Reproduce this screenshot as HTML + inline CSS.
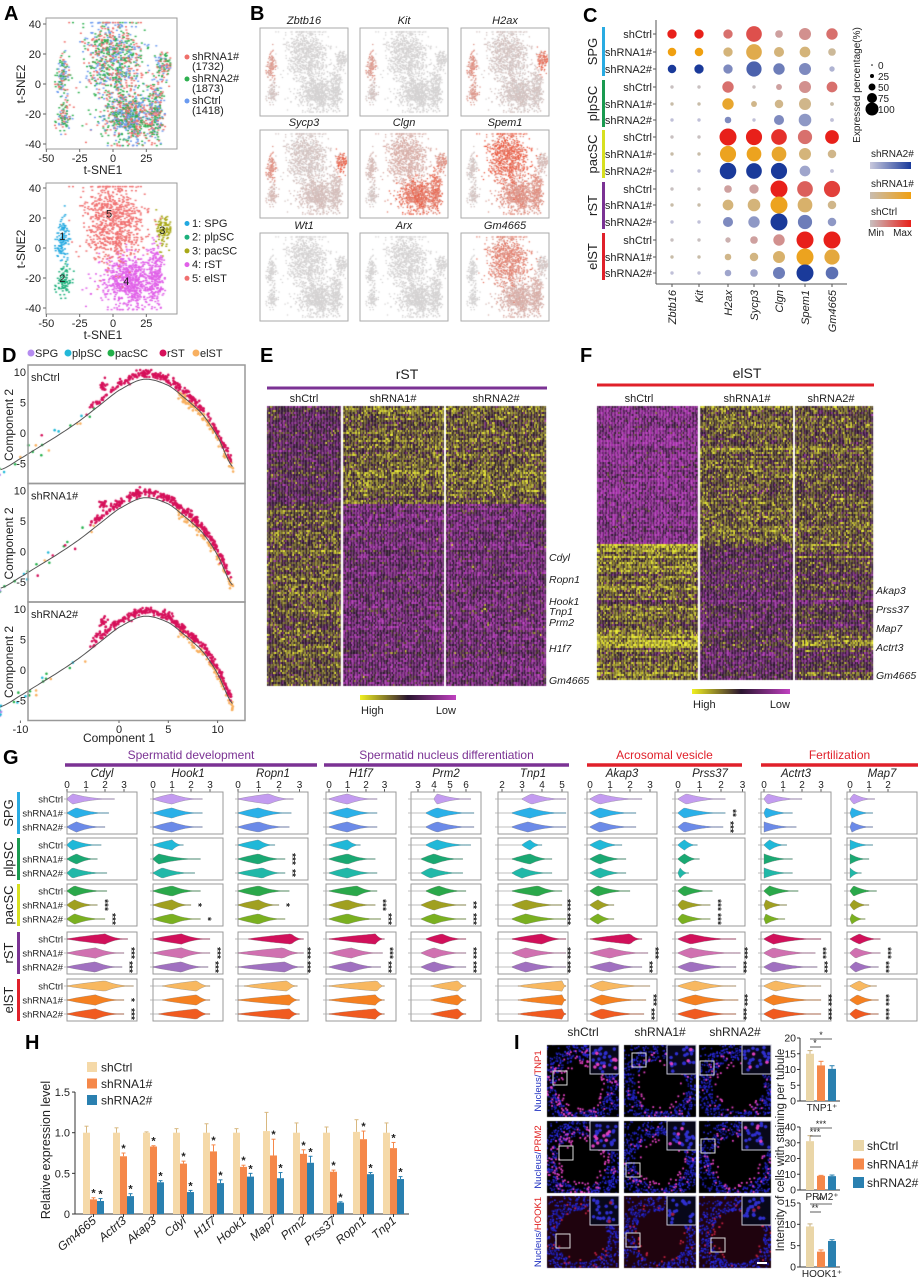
<!DOCTYPE html>
<html><head><meta charset="utf-8">
<style>
body{margin:0;width:920px;height:1280px;position:relative;background:#fff;overflow:hidden;font-family:"Liberation Sans",sans-serif}
#cv,#svg{position:absolute;left:0;top:0}
</style></head>
<body>
<canvas id="cv" width="920" height="1280"></canvas>
<svg id="svg" width="920" height="1280" font-family="Liberation Sans, sans-serif">
<defs>
<linearGradient id="hm" x1="0" x2="1" y1="0" y2="0"><stop offset="0" stop-color="#f0f020"/><stop offset="0.5" stop-color="#2a1530"/><stop offset="1" stop-color="#c040c0"/></linearGradient>
<linearGradient id="g2" x1="0" x2="1"><stop offset="0" stop-color="#c8c8dc"/><stop offset="1" stop-color="#1a3a9a"/></linearGradient>
<linearGradient id="g1" x1="0" x2="1"><stop offset="0" stop-color="#c8bcb0"/><stop offset="1" stop-color="#f0a010"/></linearGradient>
<linearGradient id="g0" x1="0" x2="1"><stop offset="0" stop-color="#c8c0c0"/><stop offset="1" stop-color="#e8201a"/></linearGradient>
</defs>
</svg>
<script>
// ---------------- DATA ----------------
const tsneClusters=['SPG','plpSC','pacSC','rST','elST','rST'];
const tsneCx=[-38,-37,38,12,0,32];
const tsneCy=[5,-22,12,-22,17,-18];
const tsneSx=[2.5,2.5,3,10,11,3];
const tsneSy=[8,5,6,9,13,10];
const tsneN=[120,90,110,700,800,220];
const tsneCid=[0,1,2,3,4,3];
const sampleNames=['shRNA1#','shRNA2#','shCtrl'];
const sampleCounts=[1732,1873,1418];
const bGenes=['Zbtb16','Kit','H2ax','Sycp3','Clgn','Spem1','Wt1','Arx','Gm4665'];
const bLevels=[[0.5,0.1,0,0,0],[0.5,0.1,0,0,0],[0.6,0.5,0.9,0.1,0.1],[0.6,0.2,1,0.15,0.1],[0.2,0.1,0.6,0.9,0.3],[0.1,0.1,0.2,0.6,1],[0,0,0,0,0],[0,0,0,0,0],[0.05,0.05,0.1,0.3,0.7]];
const cGenes=['Zbtb16','Kit','H2ax','Sycp3','Clgn','Spem1','Gm4665'];
const cGroups=['SPG','plpSC','pacSC','rST','elST'];
const cConds=['shCtrl','shRNA1#','shRNA2#'];
const cPct=[[30,30,30,85,20,50,45],[25,25,30,85,35,40,20],[25,30,30,80,45,50,10],
[4,4,45,4,12,50,40],[4,4,45,12,25,50,5],[4,4,15,4,35,55,5],
[4,4,100,90,85,70,65],[4,4,90,75,75,50,25],[4,4,95,85,90,40,5],
[4,4,20,30,100,85,90],[4,4,40,55,100,75,25],[4,4,35,45,100,70,25],
[4,4,10,20,45,100,100],[4,4,15,25,50,100,80],[4,4,15,20,50,100,55]];
const cInt=[[1,1,.5,.7,.2,.3,.5],[1,1,.3,.6,.3,.3,.1],[1,1,.4,.7,.5,.4,.1],
[0,0,.5,0,.2,.3,.5],[0,0,.8,.2,.2,.2,0],[0,0,.4,0,.4,.3,0],
[0,0,1,1,.9,.5,1],[0,0,.9,.9,.8,.3,.2],[0,0,1,1,1,.2,0],
[0,0,.2,.2,1,.6,.8],[0,0,.3,.3,.9,.4,.2],[0,0,.4,.3,1,.5,.3],
[0,0,.1,.2,.3,1,1],[0,0,.2,.25,.4,.9,.7],[0,0,.2,.2,.5,1,.6]];
const dCurveX=[-12,-10,-8,-6,-4,-2,0,2.5,5,7,8.5,10,11.5];
const dCurveY=[-6,-4.2,-2.2,-0.2,2,4.5,7,8.8,7.8,5.3,3,-0.6,-5.5];
const dPanels=['shCtrl','shRNA1#','shRNA2#'];
const gGenes=['Cdyl','Hook1','Ropn1','H1f7','Prm2','Tnp1','Akap3','Prss37','Actrt3','Map7'];
const gViolins=[
[[0,.3,2.5],[0,.5,2.2],[0,.5,2],[0,.3,1.8],[0,.5,1.6],[0,.3,2.1],[0,.4,2.1],[0,.4,1.6],[0,.4,2],[0,2,3.2],[0,1.5,3],[0,1.5,2.9],[0,2,3.5],[0,1.5,3],[0,1.5,3]],
[[0,1,2.6],[0,1,2.6],[0,1,2.6],[0,1,1.6],[0,.3,2.5],[0,.5,2.2],[0,1,2.5],[0,1,2],[0,1,2.5],[0,1.5,3],[0,1.5,3],[0,1.5,2.9],[.5,2.3,3],[.5,2.3,3],[.3,2.3,3]],
[[0,1.5,2.7],[0,1,2.6],[0,1,2.5],[0,1,1.8],[0,1,2.3],[0,1.2,2.3],[0,1,2.5],[0,1,2],[0,1,2.3],[.5,2.6,3.2],[0,2.2,3.2],[0,2.3,3.2],[.3,2.4,2.9],[0,2.5,3],[0,2.5,3]],
[[0,1,2.6],[0,1,2.6],[0,1,2.6],[0,1,1.7],[0,1,2.5],[0,1,2.6],[0,1.5,2.6],[0,1,2.5],[0,1,2.8],[0,2.5,3],[0,1.2,2.9],[0,1.2,2.8],[0,2.6,3],[0,2.5,3],[0,2.5,3]],
[[4,4.2,6.3],[3.5,4.2,6.5],[3.5,4.2,6.5],[3.5,4.2,6.3],[3.2,4,5.8],[3.2,3.8,5.8],[3.5,4.3,6],[3.2,4,6],[3.2,4,6],[3.5,4.5,6],[3.2,4,6],[3.2,4,6],[3.8,5.5,6],[3.8,5.5,6],[3.8,5.5,6]],
[[3,3.5,5.5],[2.5,3.4,5.5],[2.5,3.3,5.5],[3,3.4,4],[2.5,3.4,4.5],[2.5,3,4.5],[2.5,3.8,5],[2.5,3.2,5],[2.5,3.2,5.2],[2.5,4,5.5],[2.5,3.2,5.5],[2.5,3.2,5.5],[2.8,5,5.5],[2.8,5,5.5],[2.8,5,5.5]],
[[0,.5,2.6],[0,.5,2.3],[0,.5,2.3],[0,.5,1.6],[0,.5,1.8],[0,.5,1.8],[0,.4,2],[0,.4,1.2],[0,.4,1.2],[0,2,2.6],[0,1,2.9],[0,1,2.6],[0,.6,3],[0,.6,2.8],[0,.6,2.7]],
[[0,.4,2.2],[0,.3,2.2],[0,.3,2.1],[0,.3,.9],[0,.3,1],[0,.1,.5],[0,.3,1.6],[0,.2,1.5],[0,.2,1.5],[0,.6,2.7],[0,.6,2.9],[0,.6,2.7],[0,.8,2.7],[0,.8,2.8],[0,.8,2.7]],
[[0,.2,2],[0,.1,1.5],[0,0,1.7],[0,.3,1.2],[0,0,1.5],[0,0,1.5],[0,.3,1.8],[0,.1,1.2],[0,.1,1.1],[0,.5,3],[0,.5,2.7],[0,.5,2.8],[0,.6,3],[0,.5,3],[0,.5,3]],
[[0,.2,1.3],[0,.1,1.2],[0,.1,1.2],[0,0,1.2],[0,0,1],[0,0,.6],[0,.2,1.4],[0,.2,1],[0,.1,.8],[0,.5,1.6],[0,.3,1.6],[0,.3,1.5],[0,.5,1.4],[0,.4,1.5],[0,.3,1.5]]];
const gStars=[
[[2,1,'***'],[2,2,'***'],[3,1,'***'],[3,2,'***'],[4,1,'*'],[4,2,'***']],
[[2,1,'*'],[2,2,'*'],[3,1,'***'],[3,2,'***']],
[[1,1,'***'],[1,2,'**'],[2,1,'*'],[3,1,'***'],[3,2,'***']],
[[2,1,'***'],[2,2,'***'],[3,1,'***'],[3,2,'***']],
[[2,1,'**'],[2,2,'***'],[3,1,'***'],[3,2,'***']],
[[2,1,'***'],[2,2,'***'],[3,1,'***'],[3,2,'***']],
[[3,1,'***'],[3,2,'***'],[4,1,'***'],[4,2,'***']],
[[0,1,'**'],[0,2,'***'],[2,1,'***'],[2,2,'***'],[3,1,'***'],[3,2,'***'],[4,1,'***'],[4,2,'***']],
[[3,1,'***'],[3,2,'***'],[4,1,'***'],[4,2,'***']],
[[3,1,'***'],[3,2,'***'],[4,1,'***'],[4,2,'***']]];
const hGenes=['Gm4665','Actrt3','Akap3','Cdyl','H1f7','Hook1','Map7','Prm2','Prss37','Ropn1','Tnp1'];
const hCtrl=[1,1,1,1,1,1,1.02,1,1,1.01,1];
const hCtrlErr=[0.08,0.06,0.01,0.05,0.11,0.05,0.23,0.12,0.07,0.15,0.12];
const hSh1=[0.18,0.71,0.83,0.62,0.77,0.58,0.72,0.74,0.52,0.92,0.81];
const hSh1Err=[0.02,0.04,0.01,0.03,0.08,0.02,0.2,0.05,0.02,0.1,0.07];
const hSh2=[0.16,0.22,0.39,0.27,0.38,0.46,0.44,0.63,0.14,0.49,0.43];
const hSh2Err=[0.03,0.03,0.02,0.02,0.04,0.04,0.07,0.08,0.01,0.02,0.03];
const hTicks=[0,0.5,1.0,1.5];
const hTickLabels=['0','0.5','1.0','1.5'];
const iMarkers=['TNP1','PRM2','HOOK1'];
const iCtrl=[15,31,9.5], iSh1=[11.3,9,3.6], iSh2=[10.2,8.8,6.1];
const iCtrlErr=[1,3.5,0.6], iSh1Err=[1.3,0.3,0.4], iSh2Err=[1,0.7,0.3];
const iMax=[20,40,15];
const iTicks=[[0,5,10,15,20],[0,10,20,30,40],[0,5,10,15]];
const iSig=[['*','*'],['***','***'],['**','**']];

// ---------------- HELPERS ----------------
const NS='http://www.w3.org/2000/svg';
const S=document.getElementById('svg');
const ctx=document.getElementById('cv').getContext('2d');
function mk(tag,attrs,parent){const e=document.createElementNS(NS,tag);for(const k in attrs)e.setAttribute(k,attrs[k]);(parent||S).appendChild(e);return e;}
function T(x,y,s,attrs,name){const a=Object.assign({x:x,y:y,'font-size':10,fill:'#222'},attrs||{});const e=mk('text',a);e.textContent=s;


return e;}
function L(x1,y1,x2,y2,st,w,name){const e=mk('line',{x1:x1,y1:y1,x2:x2,y2:y2,stroke:st||'#444','stroke-width':w||1});


return e;}
function R(x,y,w,h,fill,name,extra){const e=mk('rect',Object.assign({x:x,y:y,width:w,height:h,fill:fill},extra||{}));


return e;}
let seed=12345;
function rnd(){seed|=0;seed=seed+0x6D2B79F5|0;let t=Math.imul(seed^seed>>>15,1|seed);t=t+Math.imul(t^t>>>7,61|t)^t;return((t^t>>>14)>>>0)/4294967296;}
function gauss(){let u=rnd()||1e-6,v=rnd();return Math.sqrt(-2*Math.log(u))*Math.cos(2*Math.PI*v);}
function lerpC(a,b,t){return 'rgb('+a.map((v,i)=>Math.round(v+(b[i]-v)*t)).join(',')+')';}
function letter(x,y,s){T(x,y,s,{'font-size':20,'font-weight':'bold',fill:'#000'},'panel-letter-'+s);}

letter(4,20,'A');letter(250,20,'B');letter(583,22,'C');letter(2,362,'D');letter(260,362,'E');letter(580,362,'F');letter(3,764,'G');letter(25,1049,'H');letter(514,1049,'I');

// ---------------- PANEL A ----------------
const TX=v=>113+v*1.333;
const tpts=[];
const totS=sampleCounts.reduce((a,b)=>a+b,0);
tsneN.forEach((n,k)=>{for(let i=0;i<n;i++){let x=tsneCx[k]+gauss()*tsneSx[k],y=tsneCy[k]+gauss()*tsneSy[k];x=Math.max(-45,Math.min(43,x));y=Math.max(-41,Math.min(41,y));let u=rnd()*totS,s=0;while(u>sampleCounts[s]){u-=sampleCounts[s];s++;}tpts.push({x:x,y:y,c:tsneCid[k],s:s,u:rnd()});}});
const sCol=['#ef6f6a','#2eb050','#6a9af0'];
const cCol=['#22a8e0','#1cb07c','#a8a818','#e060e8','#f07070'];
function tsneAxes(y0,yzero,name){
  R(46,y0,131,131,'none',name+'-frame',{stroke:'#999'});
  [40,20,0,-20,-40].forEach(v=>{const y=yzero-v*1.5;if(y<y0-1||y>y0+132)return;L(43,y,46,y,'#666');T(41,y+4,String(v),{'text-anchor':'end','font-size':11},name+'-ytick');});
  [-50,-25,0,25].forEach(v=>{const x=TX(v);L(x,y0+131,x,y0+134,'#666');T(x,y0+144,String(v),{'text-anchor':'middle','font-size':11},name+'-xtick');});
  T(103,y0+156,'t-SNE1',{'text-anchor':'middle','font-size':12},name+'-x-title');
  T(0,0,'t-SNE2',{'text-anchor':'middle','font-size':12,transform:'translate(25,'+(y0+66)+') rotate(-90)'},name+'-y-title');
}
tpts.forEach(p=>{ctx.fillStyle=sCol[p.s];ctx.fillRect(TX(p.x)-1,84-p.y*1.5-0.6,2,1.4);});
tsneAxes(18,84,'tsne-sample');
tpts.forEach(p=>{ctx.fillStyle=cCol[p.c];ctx.fillRect(TX(p.x)-1,248-p.y*1.5-0.6,2,1.4);});
tsneAxes(183,248,'tsne-cluster');
[['1',-38,8],['2',-38,-20],['3',37,12],['4',10,-22],['5',-3,23]].forEach(a=>T(TX(a[1]),248-a[2]*1.5+4,a[0],{'font-size':11,'text-anchor':'middle'},'cluster-number'));
sampleNames.forEach((s,i)=>{const y=60+i*22;const c=mk('circle',{cx:187,cy:y-3,r:2.5,fill:sCol[i]});


T(192,y,s,{'font-size':11},'legend-entry');T(192,y+10,'('+sampleCounts[i]+')',{'font-size':11},'legend-count');});
['1: SPG','2: plpSC','3: pacSC','4: rST','5: elST'].forEach((s,i)=>{const y=227+i*13.7;const c=mk('circle',{cx:187,cy:y-3.5,r:2.5,fill:cCol[i]});


T(192,y,s,{'font-size':11},'legend-entry');});

// ---------------- PANEL B ----------------
const bX=[260,360,461],bY=[28,130,233];
bGenes.forEach((g,gi)=>{const bx=bX[gi%3],by=bY[Math.floor(gi/3)];
  tpts.forEach(p=>{const lv=bLevels[gi][p.c]*(0.4+0.6*p.u);ctx.fillStyle=lv>0.05?lerpC([208,204,204],[240,70,40],lv):'#d4d2d2';ctx.fillRect(bx+(p.x+50)/95*88-0.7,by+(45-p.y)/90*88-0.6,1.4,1.2);});
  R(bx,by,88,88,'none','feature-plot-'+g,{stroke:'#aaa'});
  T(bx+44,by-4,g,{'font-size':11,'font-style':'italic','text-anchor':'middle'},'feature-title');
});

// ---------------- PANEL C ----------------
const cColX=[672,699,728,754,779,805,832];
const cRowY=[34,52,69,87,104,120,137,154,171,189,205,222,240,257,273];
const cLo=[[200,192,192],[200,188,168],[192,192,216]],cHi=[[232,32,26],[240,160,16],[26,58,154]];
L(656,20,656,284,'#555');L(656,284,847,284,'#555');
cRowY.forEach((y,ri)=>{const cond=ri%3;T(652,y+4,cConds[cond],{'font-size':11,'text-anchor':'end'},'dotplot-row-label');L(653,y,656,y,'#555');
  cGenes.forEach((g,gi)=>{const p=cPct[ri][gi];const r=Math.max(0.8,Math.sqrt(p/100)*8.5);const c=mk('circle',{cx:cColX[gi],cy:y,r:r,fill:lerpC(cLo[cond],cHi[cond],cInt[ri][gi])});
  
  });});
const grpCol=['#29abe2','#1a9a50','#d8e020','#7b3294','#e0202a'];
cGroups.forEach((g,i)=>{const y0=cRowY[i*3]-7,y1=cRowY[i*3+2]+7;R(602,y0,3,y1-y0,grpCol[i],'dotplot-group-bar');
  T(0,0,g,{'font-size':13,'text-anchor':'middle',transform:'translate(597,'+((y0+y1)/2)+') rotate(-90)'},'dotplot-group-label');});
cGenes.forEach((g,gi)=>{L(cColX[gi],284,cColX[gi],287,'#555');T(0,0,g,{'font-size':11,'font-style':'italic','text-anchor':'end',transform:'translate('+(cColX[gi]+4)+',290) rotate(-90)'},'dotplot-gene-label');});
T(0,0,'Expressed percentage(%)',{'font-size':10,'text-anchor':'middle',transform:'translate(860,85) rotate(-90)'},'size-legend-title');
[[0,0.8],[25,2],[50,3.5],[75,5],[100,6.5]].forEach((a,i)=>{const y=65+i*11;const c=mk('circle',{cx:872,cy:y,r:a[1],fill:'#000'});


T(878,y+4,String(a[0]),{'font-size':10},'size-legend-label');});
[['shRNA2#','g2',157],['shRNA1#','g1',187],['shCtrl','g0',215]].forEach(a=>{T(871,a[2],a[0],{'font-size':10},'color-legend-title');R(870,a[2]+5,41,7,'url(#'+a[1]+')','color-legend-bar');});
T(868,236,'Min',{'font-size':10},'color-min');T(912,236,'Max',{'font-size':10,'text-anchor':'end'},'color-max');

// ---------------- PANEL D ----------------
const dColors={SPG:'#b58cf0',plpSC:'#22b8d8',pacSC:'#22b04a',rST:'#d6105a',elST:'#f8b060'};
function curveY(x){const n=dCurveX.length;if(x<=dCurveX[0])return dCurveY[0];for(let i=0;i<n-1;i++){if(x<=dCurveX[i+1]){const t=(x-dCurveX[i])/(dCurveX[i+1]-dCurveX[i]);
  const p0=dCurveY[Math.max(0,i-1)],p1=dCurveY[i],p2=dCurveY[i+1],p3=dCurveY[Math.min(n-1,i+2)];
  return 0.5*((2*p1)+(-p0+p2)*t+(2*p0-5*p1+4*p2-p3)*t*t+(-p0+3*p1-3*p2+p3)*t*t*t);}}return dCurveY[n-1];}
const dLeg=[['SPG',35],['plpSC',72],['pacSC',115],['rST',167],['elST',200]];
dLeg.forEach(a=>{const c=mk('circle',{cx:a[1]-4,cy:353,r:3.5,fill:dColors[a[0]]});


T(a[1],357,a[0],{'font-size':11},'trajectory-legend-label');});
dPanels.forEach((pn,pi)=>{const top=365+pi*118.5;const X=v=>119+v*9.86,Y=v=>top+68-v*6.1;
  const pts=[];
  for(let i=0;i<45;i++){const r=rnd();pts.push([-12.6+gauss()*0.35,-6.6+gauss()*0.45,r<0.35?'pacSC':r<0.7?'plpSC':'SPG']);}
  for(let i=0;i<18;i++){const x=-11+rnd()*9;const r=rnd();pts.push([x,curveY(x)+gauss()*0.8,r<0.4?'pacSC':r<0.6?'plpSC':r<0.8?'rST':'elST']);}
  for(let i=0;i<18;i++)pts.push([-1.6+gauss()*0.2,7.8+gauss()*0.4,'rST']);
  const nE=pi==0?110:70;
  for(let i=0;i<nE;i++){const x=6+rnd()*5.6;pts.push([x,curveY(x)-0.3+gauss()*0.4,'elST']);}
  const nR=pi==0?260:330;
  for(let i=0;i<nR;i++){const x=-3+Math.pow(rnd(),0.8)*14.4;pts.push([x,curveY(x)+0.9+gauss()*0.35,'rST']);}
  pts.forEach(p=>{ctx.fillStyle=dColors[p[2]];ctx.beginPath();ctx.arc(X(p[0]),Y(p[1]),1.3,0,7);ctx.fill();});
  let d='';for(let x=-12;x<=11.5;x+=0.25){d+=(d?'L':'M')+X(x).toFixed(1)+','+Y(curveY(x)).toFixed(1);}
  const c=mk('path',{d:d,fill:'none',stroke:'#555','stroke-width':1});
  
  
  R(28,top,217,118.5,'none','trajectory-frame-'+pn,{stroke:'#999','stroke-width':1.5});
  T(31,top+16,pn,{'font-size':11},'trajectory-panel-title');
  [10,5,0,-5].forEach(v=>{T(26,Y(v)+4,String(v),{'font-size':11,'text-anchor':'end'},'trajectory-ytick');});
  T(0,0,'Component 2',{'font-size':12,'text-anchor':'middle',transform:'translate(13,'+(top+60)+') rotate(-90)'},'trajectory-y-title');
  if(pi==2){[-10,0,5,10].forEach(v=>{L(X(v),top+118.5,X(v),top+121,'#666');T(X(v),top+131,String(v),{'font-size':11,'text-anchor':'middle'},'trajectory-xtick');});
  T(119,top+140,'Component 1',{'font-size':12,'text-anchor':'middle'},'trajectory-x-title');}
});

// ---------------- PANELS E/F HEATMAPS ----------------
function hmColor(z){z=Math.max(-1,Math.min(1,z));return z>0?lerpC([42,22,44],[230,230,40],z):lerpC([42,22,44],[170,50,175],-z);}
function heatmap(x0,x1,y0,y1,divs,baseFn,rowSd){const rows=Math.floor((y1-y0)/2);const cols=Math.floor((x1-x0)/1.5);
  const rowEff=[];for(let r=0;r<rows;r++)rowEff.push(gauss()*rowSd);
  for(let r=0;r<rows;r++)for(let c=0;c<cols;c++){const x=x0+c*1.5;const g=x<divs[0]?0:x<divs[1]?1:2;
    ctx.fillStyle=hmColor(baseFn(r/rows,g,r)+rowEff[r]+gauss()*0.35);ctx.fillRect(x,y0+r*2,1.6,2);}
  ctx.fillStyle='#fff';divs.forEach(d=>ctx.fillRect(d-1,y0,2,y1-y0));}
heatmap(267,547,406,686,[342,445],(t,g)=> t<0.35?(g==0?-0.2:0.3):(g==0?0.2:-0.45),0.12);
const fBand=[];for(let i=0;i<140;i++)fBand.push(gauss()*0.4);
heatmap(597,873,406,681,[699,794],(t,g,r)=> t<0.5?(g==0?-0.65:g==1?0.25:0.2):(g==0?0.35+fBand[r]*0.6:g==1?-0.25+fBand[r]*0.3:0.0+fBand[r]*0.7),0.1);
T(407,379,'rST',{'font-size':14,'text-anchor':'middle'},'heatmap-e-title');L(267,388,547,388,'#7b3294',3,'heatmap-e-group-bar');
[['shCtrl',304],['shRNA1#',393],['shRNA2#',496]].forEach(a=>T(a[1],402,a[0],{'font-size':11,'text-anchor':'middle'},'heatmap-e-column-label'));
[['Cdyl',561],['Ropn1',583],['Hook1',605],['Tnp1',615],['Prm2',626],['H1f7',652],['Gm4665',684]].forEach(a=>T(549,a[1],a[0],{'font-size':10.5,'font-style':'italic'},'heatmap-e-gene-label'));
R(360,695,96,5,'url(#hm)','heatmap-e-colorbar');T(361,714,'High',{'font-size':11},'colorbar-high');T(456,714,'Low',{'font-size':11,'text-anchor':'end'},'colorbar-low');
T(747,378,'elST',{'font-size':14,'text-anchor':'middle'},'heatmap-f-title');L(597,385,874,385,'#e0202a',3,'heatmap-f-group-bar');
[['shCtrl',639],['shRNA1#',747],['shRNA2#',831]].forEach(a=>T(a[1],402,a[0],{'font-size':11,'text-anchor':'middle'},'heatmap-f-column-label'));
[['Akap3',594],['Prss37',613],['Map7',632],['Actrt3',651],['Gm4665',679]].forEach(a=>T(876,a[1],a[0],{'font-size':10.5,'font-style':'italic'},'heatmap-f-gene-label'));
R(692,689,98,5,'url(#hm)','heatmap-f-colorbar');T(693,708,'High',{'font-size':11},'colorbar-high');T(790,708,'Low',{'font-size':11,'text-anchor':'end'},'colorbar-low');

// ---------------- PANEL G VIOLINS ----------------
const gColX=[67,153,238,326,411,498,587,675,761,847];
const gAxis=[[0,19,0,[0,1,2,3]],[0,19,0,[0,1,2,3]],[0,20.5,0,[0,1,2,3]],[0,18.5,3,[0,1,2,3]],[3,16,7,[3,4,5,6]],[2,20,4,[2,3,4,5]],[0,20,3,[0,1,2,3]],[0,21.5,3,[0,1,2,3]],[0,19,3,[0,1,2,3]],[0,19,3,[0,1,2]]];
const gRowY=[792,838,884,932,979];
const gFill=[['#c39bf0','#2ab0e8','#6b8ae8'],['#20b8d8','#1aa872','#20b8a8'],['#2aa84a','#a0a020','#7ab020'],['#d0105a','#d070b0','#a070c0'],['#f8b860','#f58020','#f05a20']];
[['Spermatid development',65,317,'#7b3294'],['Spermatid nucleus differentiation',324,569,'#7b3294'],['Acrosomal vesicle',587,742,'#e0202a'],['Fertilization',761,918,'#e0202a']].forEach(a=>{
  T((a[1]+a[2])/2,759,a[0],{'font-size':12,'text-anchor':'middle',fill:a[3]},'category-title');L(a[1],765,a[2],765,a[3],3.5,'category-bar');});
gGenes.forEach((g,ci)=>{const bx=gColX[ci],ax=gAxis[ci];const X=v=>Math.min(bx+68,bx+ax[2]+(v-ax[0])*ax[1]);
  T(bx+35,777,g,{'font-size':11.5,'font-style':'italic','text-anchor':'middle'},'violin-gene-title');
  ax[3].forEach(v=>{T(X(v),788,String(v),{'font-size':10,'text-anchor':'middle'},'violin-xtick');L(X(v),789,X(v),792,'#555');});
  gRowY.forEach((ry,ri)=>{R(bx,ry,70,42,'none','violin-box',{stroke:'#999'});
    [7,21,35].forEach((off,k)=>{const vd=gViolins[ci][ri*3+k];const cy=ry+off;const lo=X(vd[0]),pk=X(vd[1]),hi=X(vd[2]);
      L(bx-3,cy,lo,cy,'#aaa',0.8,'violin-tail');
      let top='',bot=[];for(let s=0;s<=24;s++){const x=lo+(hi-lo)*s/24;let w;if(x<=pk){w=pk>lo?Math.pow((x-lo)/(pk-lo),0.8):1;}else{w=Math.pow(1-(x-pk)/(hi-pk),2.2);}const h=Math.max(0.4,w*5.2);top+=(top?'L':'M')+x.toFixed(1)+','+(cy-h).toFixed(1);bot.unshift('L'+x.toFixed(1)+','+(cy+h).toFixed(1));}
      const p=mk('path',{d:top+bot.join('')+'Z',fill:gFill[ri][k],stroke:'#777','stroke-width':0.3});
      
      });
  });
  gStars[ci].forEach(s=>{const vd=gViolins[ci][s[0]*3+s[1]];const x=Math.min(bx+66,X(vd[2])+4);const y=gRowY[s[0]]+[7,21,35][s[1]];
    T(0,0,s[2],{'font-size':10,'font-weight':'bold','text-anchor':'middle',transform:'translate('+x+','+y+') rotate(90)'},'significance-stars');});
});
gRowY.forEach((ry,ri)=>{['shCtrl','shRNA1#','shRNA2#'].forEach((c,k)=>{T(63,ry+[7,21,35][k]+3.5,c,{'font-size':9.5,'text-anchor':'end'},'violin-row-label');});
  R(17,ry,3,42,grpCol[ri],'violin-group-bar');
  T(0,0,cGroups[ri],{'font-size':13,'text-anchor':'middle',transform:'translate(13,'+(ry+21)+') rotate(-90)'},'violin-group-label');});

// ---------------- PANEL H ----------------
const yH=v=>1214-v*81.3;
const hColors=['#f5d9a8','#f5884a','#2a80b0'];
L(75,yH(1.5),75,1214,'#333');L(75,1214,409,1214,'#333');
hTicks.forEach((v,i)=>{L(72,yH(v),75,yH(v),'#333');T(70,yH(v)+4,hTickLabels[i],{'font-size':11,'text-anchor':'end'},'h-ytick');});
T(0,0,'Relative expression level',{'font-size':12.5,'text-anchor':'middle',transform:'translate(50,1150) rotate(-90)'},'h-y-title');
hGenes.forEach((g,i)=>{const gx=83+30*i;
  [[hCtrl,hCtrlErr],[hSh1,hSh1Err],[hSh2,hSh2Err]].forEach((s,k)=>{const v=s[0][i],e=s[1][i];const x=gx+k*7;
    R(x,yH(v),7,1214-yH(v),hColors[k],'bar-'+g+'-'+['shCtrl','shRNA1','shRNA2'][k]);
    const ec=k==0?'#d8b880':hColors[k];
    L(x+3.5,yH(v),x+3.5,yH(v+e),ec,1,'error-bar');L(x+1.5,yH(v+e),x+5.5,yH(v+e),ec,1,'error-cap');
    if(k>0)T(x+3.5,yH(v+e)-1,'*',{'font-size':11,'font-weight':'bold','text-anchor':'middle'},'h-significance');});
  L(gx+10.5,1214,gx+10.5,1217,'#333');
  T(0,0,g,{'font-size':12,'font-style':'italic','text-anchor':'end',transform:'translate('+(gx+14)+',1222) rotate(-40)'},'h-xtick');
});
['shCtrl','shRNA1#','shRNA2#'].forEach((s,k)=>{const y=1062+k*16.5;R(87,y,10,10,hColors[k],'h-legend-swatch');T(101,y+9.5,s,{'font-size':12},'h-legend-label');});

// ---------------- PANEL I ----------------
const imX=[547,624,699],imY=[1045,1121,1196];
['shCtrl','shRNA1#','shRNA2#'].forEach((s,i)=>T(imX[i]+36,1036,s,{'font-size':12,'text-anchor':'middle'},'image-column-title'));
const pinkRate=[[1,0.45,0.4],[1,0.55,0.5],[0.25,0.2,0.25]];
const boxPos=[[[6,26],[8,8],[1,16]],[[12,25],[2,42],[2,18]],[[9,38],[2,37],[12,42]]];
iMarkers.forEach((m,r)=>{
  const t=T(0,0,'',{'font-size':9.5,'text-anchor':'middle',transform:'translate('+541+','+(imY[r]+36)+') rotate(-90)'},'image-row-label');
  const a=mk('tspan',{fill:'#2030c0'});a.textContent='Nucleus/';t.appendChild(a);
  const b=mk('tspan',{fill:'#e02020'});b.textContent=m;t.appendChild(b);
  [0,1,2].forEach(c=>{const x0=imX[c],y0=imY[r];ctx.fillStyle='#000';ctx.fillRect(x0,y0,72,72);
    ctx.save();ctx.beginPath();ctx.rect(x0,y0,72,72);ctx.clip();
    const cx=x0+34+c*2,cy=y0+40;
    if(r==2){ctx.fillStyle='rgba(90,10,40,0.35)';ctx.fillRect(x0,y0,72,72);}
    for(let k=0;k<900;k++){const ang=rnd()*6.283;const rad=rnd()<0.65?26+rnd()*16:44+rnd()*30;const px=cx+Math.cos(ang)*rad,py=cy+Math.sin(ang)*rad;
      ctx.fillStyle=rnd()<0.5?'#2a2ae0':'#1a1aa0';ctx.fillRect(px,py,1.6,1.6);}
    const np=Math.floor(140*pinkRate[r][c]);
    for(let k=0;k<np;k++){const ang=rnd()*6.283;const rad=20+rnd()*16;ctx.fillStyle=r==2?'#c02040':'#e040c0';ctx.fillRect(cx+Math.cos(ang)*rad,cy+Math.sin(ang)*rad,1.8,1.8);}
    ctx.restore();
    const ix=x0+43,iy=y0;ctx.fillStyle='#08081a';ctx.fillRect(ix,iy,29,29);
    for(let k=0;k<20;k++){ctx.fillStyle='#3030d0';ctx.beginPath();ctx.arc(ix+2+rnd()*25,iy+2+rnd()*25,1.8,0,7);ctx.fill();}
    for(let k=0;k<Math.floor(8*pinkRate[r][c]);k++){ctx.fillStyle=r==2?'#a02040':'#e040c0';ctx.beginPath();ctx.arc(ix+3+rnd()*23,iy+3+rnd()*23,1.8,0,7);ctx.fill();}
    R(ix,iy,29,29,'none','image-inset',{stroke:'#c8c8d8','stroke-width':1});
    const bp=boxPos[r][c];R(x0+bp[0],y0+bp[1],14,14,'none','image-zoom-box',{stroke:'#ddd','stroke-width':1});
    R(x0,y0,72,72,'none','micrograph-'+m+'-'+c);
  });
});
R(757,1262,10,2,'#fff','scale-bar');
const iTop=[1038,1127,1203],iBot=[1101,1190,1267];
iMarkers.forEach((m,k)=>{const Y=v=>iBot[k]-v/iMax[k]*(iBot[k]-iTop[k]);
  L(800,iTop[k],800,iBot[k],'#333');L(800,iBot[k],840,iBot[k],'#333');
  iTicks[k].forEach(v=>{L(797,Y(v),800,Y(v),'#333');T(796,Y(v)+3.5,String(v),{'font-size':10.5,'text-anchor':'end'},'i-ytick');});
  [[iCtrl,iCtrlErr],[iSh1,iSh1Err],[iSh2,iSh2Err]].forEach((s,j)=>{const v=s[0][k],e=s[1][k];const x=806+j*11;
    const fc=j==0?'#ead6a8':hColors[j], ec=j==0?'#c8b080':hColors[j];
    R(x,Y(v),8,iBot[k]-Y(v),fc,'i-bar-'+m);
    L(x+4,Y(v),x+4,Y(v+e),ec,1,'i-error-bar');L(x+1.5,Y(v+e),x+6.5,Y(v+e),ec,1,'i-error-cap');});
  const sy=iTop[k]+1;
  L(810,sy+8,821,sy+8,'#333',0.8,'sig-bracket');T(815,sy+7,iSig[k][0],{'font-size':9,'text-anchor':'middle'},'sig-label');
  L(810,sy,832,sy,'#333',0.8,'sig-bracket');T(821,sy-1,iSig[k][1],{'font-size':9,'text-anchor':'middle'},'sig-label');
  T(822,iBot[k]+10,m+'⁺',{'font-size':10,'text-anchor':'middle'},'i-xtick');
});
T(0,0,'Intensity of cells with staining per tubule',{'font-size':11.5,'text-anchor':'middle',transform:'translate(784,1150) rotate(-90)'},'i-y-title');
['shCtrl','shRNA1#','shRNA2#'].forEach((s,k)=>{const y=1140+k*18.5;R(853,y,11,11,k==0?'#ead6a8':hColors[k],'i-legend-swatch');T(867,y+10,s,{'font-size':12},'i-legend-label');});
</script>
</body></html>
